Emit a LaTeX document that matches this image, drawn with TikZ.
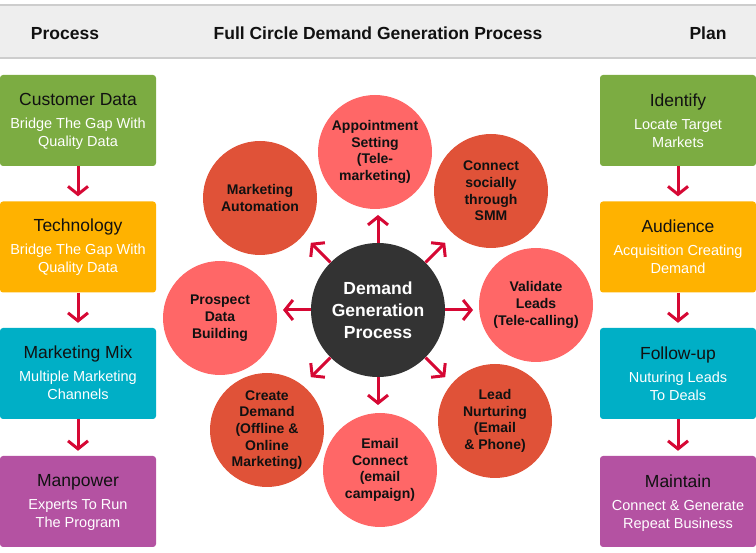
\documentclass[tikz,border=0pt]{standalone}
\usepackage{fontspec}
\setmainfont{Liberation Sans}
\usetikzlibrary{arrows.meta,calc}
\definecolor{cgreen}{RGB}{124,172,66}
\definecolor{corange}{RGB}{255,178,0}
\definecolor{cteal}{RGB}{0,175,198}
\definecolor{cpurple}{RGB}{180,82,162}
\definecolor{clight}{RGB}{255,103,103}
\definecolor{cdark}{RGB}{224,82,56}
\definecolor{ccenter}{RGB}{51,51,51}
\definecolor{carrow}{RGB}{214,8,52}
\definecolor{cband}{RGB}{238,238,238}
\definecolor{cline}{RGB}{205,205,205}
\definecolor{ctext}{RGB}{17,17,17}
\begin{document}
\begin{tikzpicture}[x=1pt,y=-1pt,
 box/.style={rectangle, rounded corners=3pt, minimum width=156pt, minimum height=91pt, inner sep=0pt, draw=none},
 ttl/.style={anchor=base, font=\fontsize{17.5}{21}\selectfont, text=ctext, inner sep=0pt},
 sub/.style={anchor=base, align=center, font=\fontsize{14.5}{18}\selectfont, text=white, inner sep=0pt},
 circ/.style={circle, minimum size=114pt, inner sep=0pt, align=center, font=\fontsize{14}{16.7}\selectfont\bfseries, text=ctext},
 arr/.style={draw=carrow, line width=3pt, -{Straight Barb[length=8pt,width=20pt]}},
 hdr/.style={font=\fontsize{17.5}{21}\selectfont\bfseries, text=ctext, anchor=base, inner sep=0pt}]
\useasboundingbox (0,0) rectangle (756,553);
% header
\fill[cband] (0,5) rectangle (756,58);
\draw[cline, line width=1.2pt] (0,5) -- (756,5);
\draw[cline, line width=1.2pt] (0,58) -- (756,58);
\node[hdr] (h1) at (65,39.5) {Process};
\node[hdr] (h2) at (378,39.5) {Full Circle Demand Generation Process};
\node[hdr] (h3) at (708,39.5) {Plan};
% left boxes
\node[box, fill=cgreen]  (l1) at (78,120.5) {};
\node[box, fill=corange] (l2) at (78,247) {};
\node[box, fill=cteal]   (l3) at (78,373.5) {};
\node[box, fill=cpurple] (l4) at (78,501.5) {};
\node[ttl] (l1t) at (78,105.5) {Customer Data};
\node[sub] (l1s) at (78,146.5) {Bridge The Gap With\\Quality Data};
\node[ttl] (l2t) at (78,232) {Technology};
\node[sub] (l2s) at (78,273) {Bridge The Gap With\\Quality Data};
\node[ttl] (l3t) at (78,358.5) {Marketing Mix};
\node[sub] (l3s) at (78,399.5) {Multiple Marketing\\Channels};
\node[ttl] (l4t) at (78,486.5) {Manpower};
\node[sub] (l4s) at (78,527.5) {Experts To Run\\The Program};
% right boxes
\node[box, fill=cgreen]  (r1) at (678,120.5) {};
\node[box, fill=corange] (r2) at (678,247) {};
\node[box, fill=cteal]   (r3) at (678,373.5) {};
\node[box, fill=cpurple] (r4) at (678,501.5) {};
\node[ttl] (r1t) at (678,106.5) {Identify};
\node[sub] (r1s) at (678,147.5) {Locate Target\\Markets};
\node[ttl] (r2t) at (678,233) {Audience};
\node[sub] (r2s) at (678,274) {Acquisition Creating\\Demand};
\node[ttl] (r3t) at (678,359.5) {Follow-up};
\node[sub] (r3s) at (678,400.5) {Nuturing Leads\\To Deals};
\node[ttl] (r4t) at (678,487.5) {Maintain};
\node[sub] (r4s) at (678,528.5) {Connect \& Generate\\Repeat Business};
% box arrows
\foreach \a/\b in {l1/l2,l2/l3,l3/l4,r1/r2,r2/r3,r3/r4}
  \draw[arr, shorten >=5pt] (\a.south) -- (\b.north);
% circles
\node[circ, fill=ccenter, minimum size=134pt, text=white, font=\fontsize{17.5}{22}\selectfont\bfseries] (c) at (378,310) {Demand\\Generation\\Process};
\node[circ, fill=clight] (app) at (375,152) {Appointment\\Setting\\(Tele-\\marketing)};
\node[circ, fill=cdark]  (soc) at (491,191) {Connect\\socially\\through\\SMM};
\node[circ, fill=cdark]  (aut) at (260,198) {Marketing\\Automation};
\node[circ, fill=clight] (pro) at (220,318) {Prospect\\Data\\Building};
\node[circ, fill=clight] (val) at (536,305) {Validate\\Leads\\(Tele-calling)};
\node[circ, fill=cdark]  (cre) at (267,430) {Create\\Demand\\(Offline \&\\Online\\Marketing)};
\node[circ, fill=clight] (ema) at (380,470) {Email\\Connect\\(email\\campaign)};
\node[circ, fill=cdark]  (lea) at (495,421) {Lead\\Nurturing\\(Email\\\& Phone)};
% radial arrows
\foreach \a in {0,45,...,315}{
  \coordinate (t\a) at ($(c.center)+(\a:95)$);
  \draw[arr] (c) -- (t\a);
}
\end{tikzpicture}
\end{document}
